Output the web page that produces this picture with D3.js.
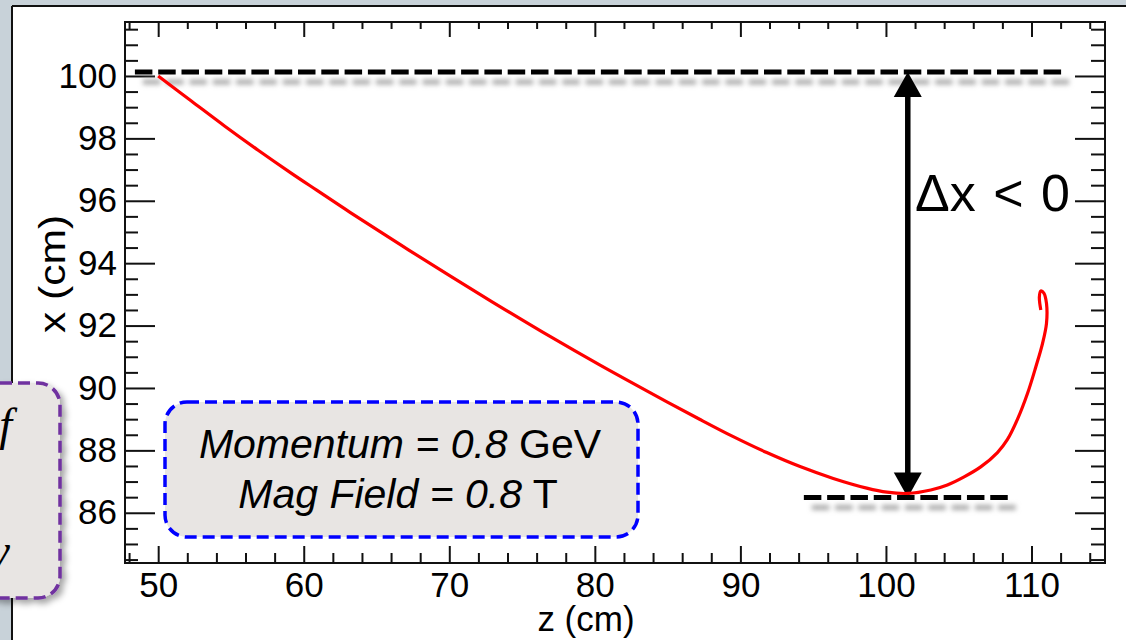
<!DOCTYPE html>
<html><head><meta charset="utf-8">
<script src="https://cdn.jsdelivr.net/npm/d3@7"></script>
<style>
html,body{margin:0;padding:0;background:#c8d2d9;overflow:hidden;}
svg{display:block;font-family:Arial,"Liberation Sans",sans-serif;}
</style></head><body>
<svg id="chart" width="1126" height="640"></svg>
<script>
// ---- data ----
const trackZ = [50.0, 52.30, 54.58, 56.87, 59.16, 60.89, 63.18, 66.61, 70.05, 73.48, 76.92, 80.36, 83.79, 87.23, 89.51, 91.81, 94.10, 96.38, 98.68, 100.07, 101.52, 103.08, 104.22, 105.37, 106.51, 107.66, 108.35, 109.04, 109.73, 110.30, 110.76, 111.03, 111.03, 110.85, 110.64, 110.54, 110.64];
const trackX = [100.0, 99.19, 98.39, 97.62, 96.88, 96.34, 95.63, 94.60, 93.59, 92.61, 91.65, 90.73, 89.85, 88.99, 88.44, 87.93, 87.48, 87.10, 86.79, 86.66, 86.62, 86.73, 86.89, 87.15, 87.47, 87.93, 88.35, 89.00, 89.83, 90.68, 91.43, 92.07, 92.71, 93.04, 93.11, 92.91, 92.50];

const zMajorTicks = [50, 60, 70, 80, 90, 100, 110];
const zTickLabels = ["50", "60", "70", "80", "90", "100", "110"];
const zMinorTicks = [48, 52, 54, 56, 58, 62, 64, 66, 68, 72, 74, 76, 78, 82, 84, 86, 88, 92, 94, 96, 98, 102, 104, 106, 108, 112, 114];
const xMajorTicks = [86, 88, 90, 92, 94, 96, 98, 100];
const xTickLabels = ["86", "88", "90", "92", "94", "96", "98", "100"];
const xMinorTicks = [84.5, 85, 85.5, 86.5, 87, 87.5, 88.5, 89, 89.5, 90.5, 91, 91.5, 92.5, 93, 93.5, 94.5, 95, 95.5, 96.5, 97, 97.5, 98.5, 99, 99.5, 100.5, 101, 101.5];

const refLevels = [100.13, 86.49];          // dashed reference lines (x, cm)
const refStartZ = [48.40, 94.36];
const refEndZ = [112.36, 108.46];
const deltaZ = 101.5;                      // z of the Δx arrow
const zTitle = "z (cm)";
const xTitle = "x (cm)";
const deltaLabel = "Δx < 0";

// ---- layout ----
const svg = d3.select("#chart");
const L = 125, R = 1105, T = 22, B = 563;
const xS = d3.scaleLinear().domain([47.72, 115.05]).range([L, R]);
const yS = d3.scaleLinear().domain([84.39, 101.73]).range([B, T]);

const defs = svg.append("defs");
defs.append("filter").attr("id", "blur").attr("x", "-10%").attr("y", "-300%").attr("width", "120%").attr("height", "700%")
  .append("feGaussianBlur").attr("stdDeviation", 2.6);
const sh = defs.append("filter").attr("id", "boxshadow").attr("x", "-20%").attr("y", "-20%").attr("width", "150%").attr("height", "150%");
sh.append("feDropShadow").attr("dx", 4).attr("dy", 4).attr("stdDeviation", 3).attr("flood-color", "#000").attr("flood-opacity", 0.35);

// panel
svg.append("rect").attr("x", 12).attr("y", 6).attr("width", 1200).attr("height", 700).attr("fill", "#fff");
svg.append("line").attr("x1", 12).attr("x2", 12).attr("y1", 6).attr("y2", 640).attr("stroke", "#111").attr("stroke-width", 2);
svg.append("line").attr("x1", 12).attr("x2", 1126).attr("y1", 6).attr("y2", 6).attr("stroke", "#111").attr("stroke-width", 2);

// axes
function styleAxis(g) {
  g.select(".domain").remove();
  g.selectAll(".tick line").attr("stroke", "#111").attr("stroke-width", 2);
  g.selectAll(".tick text").attr("fill", "#000").attr("font-size", 35).attr("font-family", "Arial, 'Liberation Sans', sans-serif");
}
svg.append("g").attr("transform", `translate(0,${B})`)
  .call(d3.axisBottom(xS).tickValues(zMajorTicks).tickSize(-17).tickPadding(9).tickFormat((d, i) => zTickLabels[i])).call(styleAxis);
svg.append("g").attr("transform", `translate(0,${B})`)
  .call(d3.axisBottom(xS).tickValues(zMinorTicks).tickSize(-10).tickFormat("")).call(styleAxis);
svg.append("g").attr("transform", `translate(0,${T})`)
  .call(d3.axisTop(xS).tickValues(zMajorTicks).tickSize(-15).tickFormat("")).call(styleAxis);
svg.append("g").attr("transform", `translate(0,${T})`)
  .call(d3.axisTop(xS).tickValues(zMinorTicks).tickSize(-7).tickFormat("")).call(styleAxis);
svg.append("g").attr("transform", `translate(${L},0)`)
  .call(d3.axisLeft(yS).tickValues(xMajorTicks).tickSize(-30).tickPadding(8).tickFormat((d, i) => xTickLabels[i])).call(styleAxis);
svg.append("g").attr("transform", `translate(${L},0)`)
  .call(d3.axisLeft(yS).tickValues(xMinorTicks).tickSize(-13).tickFormat("")).call(styleAxis);
svg.append("g").attr("transform", `translate(${R},0)`)
  .call(d3.axisRight(yS).tickValues(xMajorTicks).tickSize(-30).tickFormat("")).call(styleAxis);
svg.append("g").attr("transform", `translate(${R},0)`)
  .call(d3.axisRight(yS).tickValues(xMinorTicks).tickSize(-14).tickFormat("")).call(styleAxis);
svg.append("rect").attr("x", L).attr("y", T).attr("width", R - L).attr("height", B - T)
  .attr("fill", "none").attr("stroke", "#111").attr("stroke-width", 2);

// axis titles
svg.append("text").attr("x", 586).attr("y", 631).attr("text-anchor", "middle").attr("font-size", 35).text(zTitle);
svg.append("text").attr("transform", "translate(65,274) rotate(-90) scale(1.15,1)").attr("text-anchor", "middle").attr("font-size", 37).text(xTitle);

// dashed reference lines with shadows
const refs = refLevels.map((v, i) => ({ v, z0: refStartZ[i], z1: refEndZ[i] }));
svg.append("g").attr("transform", "translate(8,10)").attr("filter", "url(#blur)")
  .selectAll("line").data(refs).join("line")
  .attr("x1", d => xS(d.z0)).attr("x2", d => xS(d.z1)).attr("y1", d => yS(d.v)).attr("y2", d => yS(d.v))
  .attr("stroke", "#a8a8a8").attr("stroke-width", 5).attr("stroke-dasharray", "17.5,5.8");
svg.append("g").selectAll("line").data(refs).join("line")
  .attr("x1", d => xS(d.z0)).attr("x2", d => xS(d.z1)).attr("y1", d => yS(d.v)).attr("y2", d => yS(d.v))
  .attr("stroke", "#000").attr("stroke-width", 5).attr("stroke-dasharray", "17.5,5.8");

// double arrow
const ax = xS(deltaZ), yTop = yS(refLevels[0]), yBot = yS(refLevels[1]);
const hl = 25, hw = 14;
svg.append("line").attr("x1", ax).attr("x2", ax).attr("y1", yTop + hl - 2).attr("y2", yBot - hl + 2)
  .attr("stroke", "#000").attr("stroke-width", 5.5);
svg.append("path").attr("d", `M${ax},${yTop}L${ax - hw},${yTop + hl}L${ax + hw},${yTop + hl}Z`).attr("fill", "#000");
svg.append("path").attr("d", `M${ax},${yBot}L${ax - hw},${yBot - hl}L${ax + hw},${yBot - hl}Z`).attr("fill", "#000");

// Δx label
svg.append("text").attr("x", 915).attr("y", 211).attr("font-size", 52).attr("word-spacing", 3).attr("fill", "#000").text(deltaLabel);

// track
const track = trackZ.map((z, i) => ({ z, x: trackX[i] }));
svg.append("path").datum(track)
  .attr("d", d3.line().x(d => xS(d.z)).y(d => yS(d.x)).curve(d3.curveCatmullRom.alpha(0.5)))
  .attr("fill", "none").attr("stroke", "#ff0000").attr("stroke-width", 3.2).attr("stroke-linejoin", "round");

// info box
svg.append("rect").attr("x", 165).attr("y", 402).attr("width", 473).attr("height", 135).attr("rx", 22)
  .attr("fill", "#e8e5e3").attr("stroke", "#0000ff").attr("stroke-width", 3.5).attr("stroke-dasharray", "12,6");
const l1 = svg.append("text").attr("x", 400).attr("y", 458).attr("text-anchor", "middle").attr("font-size", 41).attr("fill", "#000");
l1.append("tspan").attr("font-style", "italic").text("Momentum = 0.8");
l1.append("tspan").text(" GeV");
const l2 = svg.append("text").attr("x", 398).attr("y", 508).attr("text-anchor", "middle").attr("font-size", 41).attr("fill", "#000");
l2.append("tspan").attr("font-style", "italic").text("Mag Field = 0.8");
l2.append("tspan").text(" T");

// partial purple box at left edge
svg.append("rect").attr("x", -40).attr("y", 383).attr("width", 100).attr("height", 215).attr("rx", 22)
  .attr("fill", "#e8e5e3").attr("stroke", "#7030a0").attr("stroke-width", 3.5).attr("stroke-dasharray", "12,6")
  .attr("filter", "url(#boxshadow)");
svg.append("text").attr("x", 12).attr("y", 440).attr("text-anchor", "end").attr("font-size", 46)
  .attr("font-style", "italic").attr("font-family", "'Liberation Serif','DejaVu Serif',serif").attr("fill", "#000").text("f");
svg.append("text").attr("x", 10).attr("y", 566).attr("text-anchor", "end").attr("font-size", 46)
  .attr("font-style", "italic").attr("font-family", "'Liberation Serif','DejaVu Serif',serif").attr("fill", "#000").text("y");
</script>
</body></html>
